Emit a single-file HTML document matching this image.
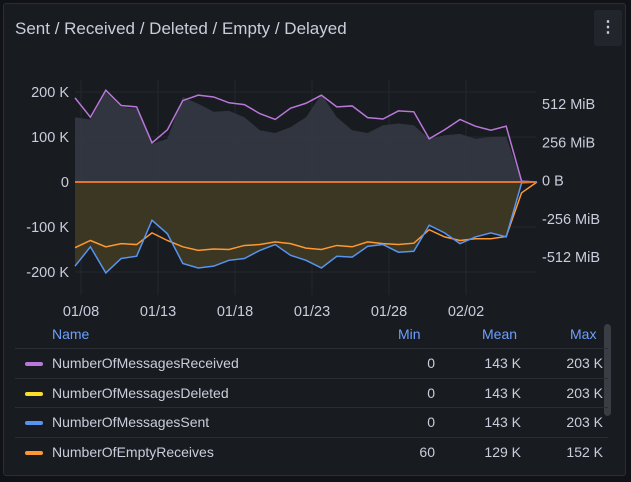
<!DOCTYPE html>
<html><head><meta charset="utf-8"><style>
body{margin:0;background:#111217;font-family:"Liberation Sans",sans-serif;}
#panel{position:absolute;left:3px;top:3px;width:621px;height:471px;background:#181b1f;border:1px solid #2a2d33;border-radius:3px;}
#title{position:absolute;left:15px;top:19px;color:#ccccdc;font-size:17px;}
#menu{position:absolute;left:594px;top:10px;width:28px;height:36px;background:#22252b;border-radius:3px;color:#ccccdc;text-align:center;line-height:36px;font-size:16px;font-weight:bold;}
svg{position:absolute;left:0;top:0;}
.leg{position:absolute;color:#ccccdc;font-size:14px;}
.hd{position:absolute;top:326px;color:#6e9fff;font-size:14px;}
.sep{position:absolute;left:15px;width:593px;height:1px;background:#2a2d33;}
.sw{position:absolute;left:25px;width:18px;height:4px;border-radius:2px;}
.num{position:absolute;width:80px;text-align:right;color:#ccccdc;font-size:14px;}
</style></head><body>
<div id="panel"></div>
<div id="title">Sent / Received / Deleted / Empty / Delayed</div>
<div id="menu">⋮</div>
<svg id="chart" width="631" height="482"></svg>
<div class="hd" style="left:52px">Name</div>
<div class="hd" style="left:398px">Min</div>
<div class="hd" style="left:482px">Mean</div>
<div class="hd" style="left:570px">Max</div>
<div style="position:absolute;left:604px;top:324px;width:7px;height:92px;background:#3a3d43;border-radius:4px"></div>
<div id="legend"></div>
<script>
const days=["01/08","01/13","01/18","01/23","01/28","02/02"];
const received=[187,144,204,170,167,87,116,181,193,189,176,172,152,139,164,175,193,167,169,143,140,158,156,96,116,139,124,115,124,2,0];
const receivedArea=[144,139,200,167,163,85,96,189,174,156,158,144,115,109,122,144,195,144,115,109,126,130,126,96,104,107,96,100,101,0,0];
const sent=[187,144,202,170,165,85,115,181,191,187,174,170,152,139,163,174,191,165,167,143,139,156,154,96,113,137,122,113,122,2,0];
const empty=[146,130,144,137,139,113,130,144,152,149,150,141,139,133,137,147,150,141,144,133,137,139,136,106,122,130,126,126,121,24,0];
const leftTicks=[200,100,0,-100,-200];
const rightTicks=["512 MiB","256 MiB","0 B","-256 MiB","-512 MiB"];
const legNames=["NumberOfMessagesReceived","NumberOfMessagesDeleted","NumberOfMessagesSent","NumberOfEmptyReceives"];
const legColors=["#b877d9","#fade2a","#5794f2","#ff9830"];
const legMin=["0","0","0","60"];
const legMean=["143 K","143 K","143 K","129 K"];
const legMax=["203 K","203 K","203 K","152 K"];

const svg=document.getElementById('chart');const NS='http://www.w3.org/2000/svg';
const X0=75,DX=15.4,Y0=182,KY=0.45;
const xi=i=>X0+i*DX;
const y=v=>Y0-v*KY;
const xd=d=>81+d*77;
function mk(t,a,name){const e=document.createElementNS(NS,t);for(const k in a)e.setAttribute(k,a[k]);


svg.appendChild(e);return e;}
leftTicks.forEach((v,i)=>{
 mk('line',{x1:75,x2:536,y1:y(v),y2:y(v),stroke:'#24272d'},'h-gridline');
 const t=mk('text',{x:69,y:y(v)+5,fill:'#ccccdc','font-size':14.5,'text-anchor':'end'},'y-tick-left');t.textContent=v===0?'0':v+' K';
});
rightTicks.forEach((s,i)=>{const t=mk('text',{x:542,y:109+i*38.3,fill:'#ccccdc','font-size':14.5},'y-tick-right');t.textContent=s;});
days.forEach((d,i)=>{mk('line',{x1:xd(i),x2:xd(i),y1:80,y2:295,stroke:'#24272d'},'v-gridline');
 const t=mk('text',{x:xd(i),y:316,fill:'#ccccdc','font-size':14.5,'text-anchor':'middle'},'x-tick');t.textContent=d;});
function pts(arr,s){return arr.map((v,i)=>xi(i)+','+y(s*v)).join(' ');}
mk('polygon',{points:X0+','+Y0+' '+pts(receivedArea,1)+' '+xi(30)+','+Y0,fill:'#343844',opacity:0.9},'received-area');
mk('polygon',{points:X0+','+Y0+' '+pts(sent,-1)+' '+xi(30)+','+Y0,fill:'#3b3722'},'deleted-area');
mk('polyline',{points:pts(received,1),fill:'none',stroke:'#b877d9','stroke-width':1.5},'received-line');
mk('polyline',{points:pts(empty,-1),fill:'none',stroke:'#ff9830','stroke-width':1.5},'empty-receives-line');
mk('polyline',{points:pts(sent,-1),fill:'none',stroke:'#5794f2','stroke-width':1.5},'sent-line');
mk('line',{x1:75,x2:536,y1:Y0,y2:Y0,stroke:'#e0752d','stroke-width':2},'zero-line');
const L=document.getElementById('legend');
legNames.forEach((n,i)=>{const ry=364+i*29.5;
 L.insertAdjacentHTML('beforeend',
 `<div class="sep" style="top:${ry-16}px"></div>
 <div class="sw" style="top:${ry-2}px;background:${legColors[i]}"></div>
 <div class="leg" style="left:52px;top:${ry-9}px">${n}</div>
 <div class="num" style="left:355px;top:${ry-9}px">${legMin[i]}</div>
 <div class="num" style="left:441px;top:${ry-9}px">${legMean[i]}</div>
 <div class="num" style="left:523px;top:${ry-9}px">${legMax[i]}</div>`);});
</script></body></html>
